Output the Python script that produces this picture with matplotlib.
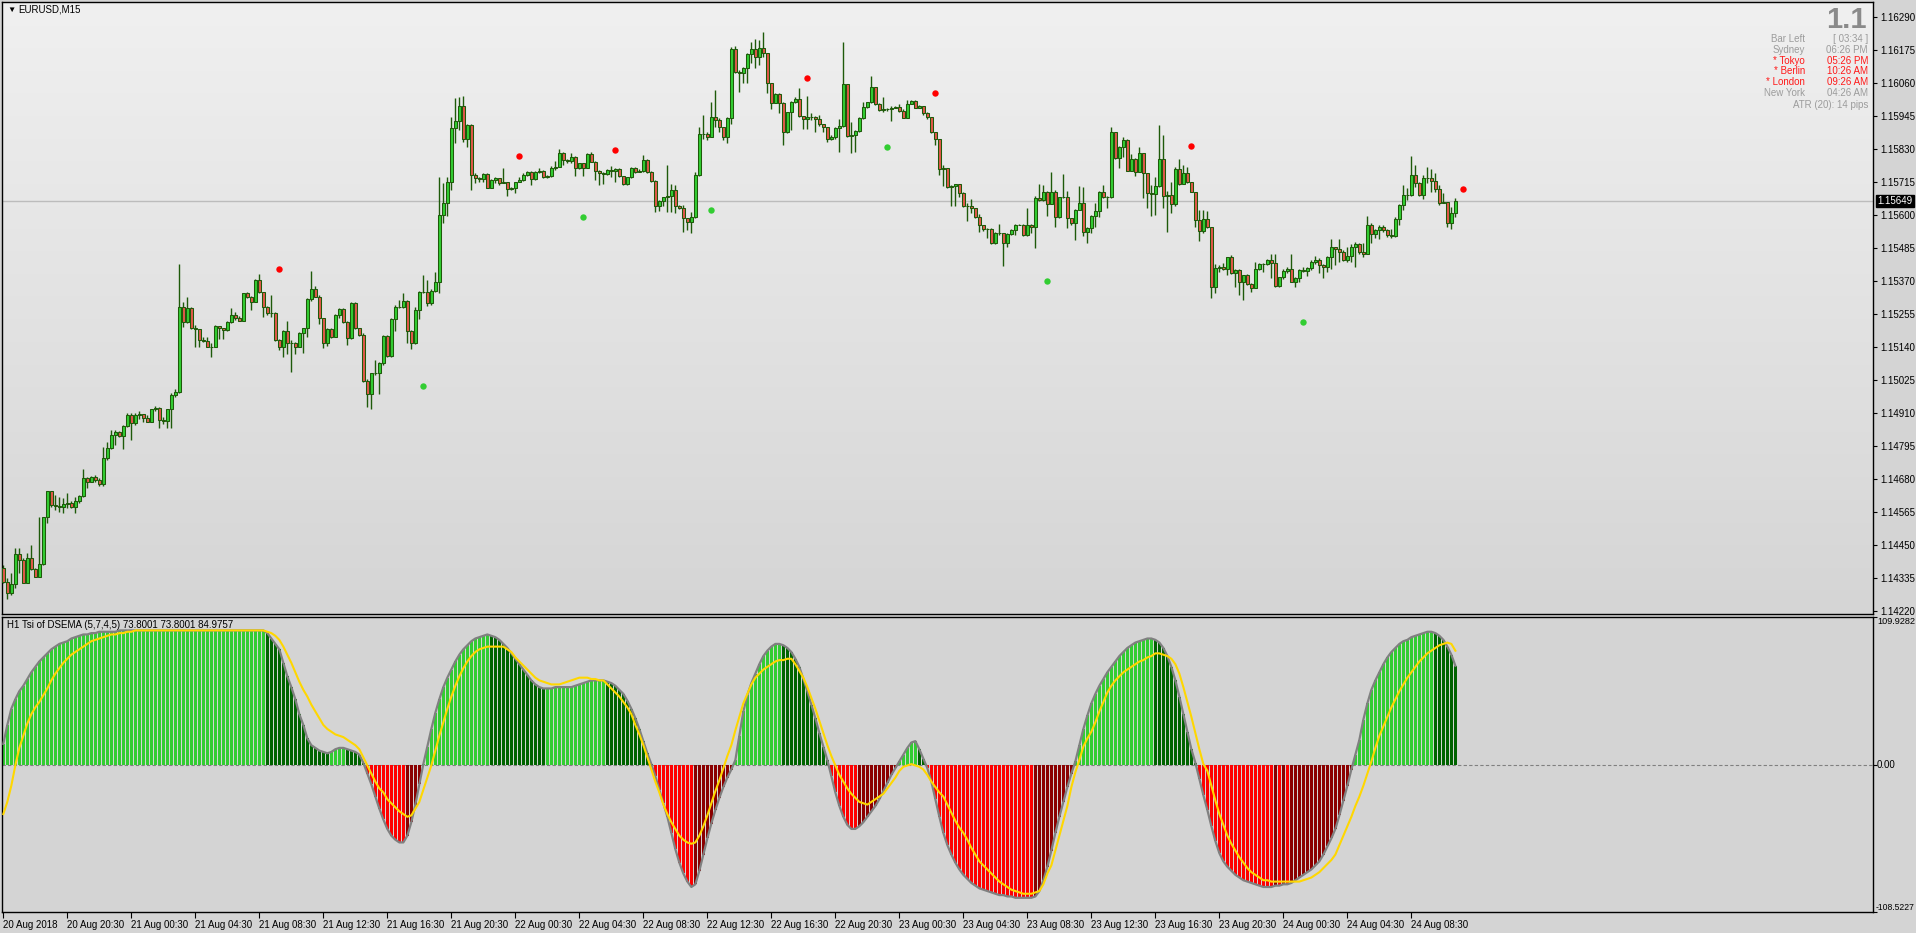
"""MT4 style EURUSD M15 chart with the H1 TSI of DSEMA sub-window."""
import matplotlib
matplotlib.use("Agg")
import matplotlib.pyplot as plt
import matplotlib.transforms as mtransforms
import numpy as np
from matplotlib.colors import LinearSegmentedColormap

FIG_W, FIG_H = 1916, 933

# prices in points (1 point = 0.00001)
FIRST_OPEN = 114368
CLOSES = [
    114322, 114281, 114313, 114418, 114397, 114318, 114403, 114365, 114339, 114382,
    114546, 114637, 114589, 114587, 114583, 114591, 114597, 114583, 114604, 114620,
    114682, 114670, 114685, 114676, 114661, 114752, 114787, 114832, 114842, 114831,
    114865, 114903, 114876, 114903, 114905, 114891, 114880, 114923, 114926, 114885,
    114883, 114923, 114971, 114984, 115278, 115226, 115275, 115205, 115203, 115164,
    115162, 115141, 115141, 115213, 115208, 115199, 115226, 115250, 115242, 115232,
    115327, 115313, 115298, 115373, 115333, 115280, 115257, 115257, 115164, 115141,
    115196, 115153, 115153, 115141, 115190, 115205, 115306, 115341, 115315, 115240,
    115155, 115203, 115176, 115251, 115271, 115226, 115170, 115294, 115205, 115181,
    115023, 114976, 115048, 115048, 115083, 115178, 115108, 115236, 115280, 115280,
    115301, 115197, 115153, 115269, 115333, 115333, 115292, 115336, 115368, 115600,
    115643, 115714, 115902, 115928, 115980, 115867, 115914, 115740, 115728, 115725,
    115743, 115696, 115722, 115729, 115713, 115716, 115690, 115696, 115716, 115722,
    115740, 115749, 115725, 115749, 115755, 115734, 115736, 115763, 115768, 115815,
    115792, 115789, 115804, 115763, 115780, 115765, 115812, 115786, 115755, 115748,
    115742, 115757, 115755, 115761, 115736, 115708, 115732, 115763, 115751, 115755,
    115792, 115749, 115720, 115633, 115649, 115662, 115666, 115687, 115633, 115623,
    115589, 115577, 115594, 115740, 115881, 115881, 115873, 115941, 115931, 115906,
    115871, 115937, 116178, 116100, 116094, 116114, 116161, 116178, 116150, 116181,
    116164, 116059, 115992, 116022, 115992, 115891, 115958, 115993, 116005, 115946,
    115934, 115941, 115941, 115934, 115916, 115906, 115867, 115871, 115902, 115912,
    116056, 115876, 115879, 115893, 115937, 115976, 115993, 116045, 115986, 115966,
    115969, 115969, 115974, 115978, 115964, 115940, 115986, 115998, 115974, 115980,
    115955, 115941, 115891, 115864, 115759, 115763, 115699, 115702, 115707, 115678,
    115633, 115632, 115623, 115592, 115565, 115550, 115553, 115504, 115536, 115536,
    115501, 115533, 115548, 115567, 115567, 115530, 115567, 115557, 115661, 115651,
    115682, 115639, 115682, 115594, 115662, 115664, 115589, 115571, 115618, 115641,
    115542, 115554, 115598, 115615, 115682, 115664, 115664, 115888, 115800, 115838,
    115862, 115755, 115794, 115751, 115815, 115745, 115676, 115673, 115701, 115794,
    115668, 115670, 115637, 115761, 115708, 115745, 115714, 115682, 115583, 115546,
    115585, 115557, 115350, 115414, 115420, 115411, 115453, 115397, 115409, 115368,
    115391, 115360, 115347, 115411, 115429, 115429, 115443, 115434, 115354, 115383,
    115406, 115411, 115368, 115379, 115408, 115405, 115414, 115437, 115445, 115426,
    115420, 115455, 115487, 115480, 115472, 115443, 115457, 115490, 115499, 115470,
    115466, 115567, 115534, 115548, 115559, 115548, 115530, 115527, 115588, 115635,
    115670, 115670, 115739, 115713, 115670, 115728, 115731, 115720, 115691, 115643,
    115644, 115571, 115609, 115649,
]
HIGHS = [
    114380, 114333, 114351, 114438, 114438, 114403, 114421, 114450, 114368, 114548,
    114548, 114639, 114636, 114624, 114618, 114612, 114630, 114604, 114618, 114624,
    114713, 114688, 114691, 114693, 114682, 114792, 114810, 114851, 114851, 114848,
    114868, 114909, 114909, 114909, 114918, 114903, 114903, 114925, 114934, 114932,
    114897, 114925, 114978, 114992, 115429, 115298, 115315, 115278, 115217, 115204,
    115176, 115174, 115153, 115217, 115213, 115203, 115229, 115275, 115263, 115248,
    115330, 115333, 115318, 115377, 115394, 115333, 115284, 115321, 115263, 115167,
    115199, 115232, 115164, 115159, 115193, 115208, 115310, 115406, 115352, 115321,
    115242, 115205, 115207, 115255, 115275, 115275, 115232, 115298, 115296, 115208,
    115190, 115027, 115050, 115095, 115089, 115182, 115182, 115240, 115286, 115304,
    115329, 115304, 115199, 115280, 115336, 115391, 115373, 115341, 115402, 115734,
    115713, 115734, 115941, 116007, 116010, 116015, 115917, 115917, 115746, 115734,
    115746, 115746, 115725, 115734, 115729, 115763, 115708, 115699, 115716, 115734,
    115748, 115752, 115752, 115752, 115763, 115757, 115740, 115772, 115790, 115829,
    115821, 115797, 115815, 115806, 115783, 115782, 115815, 115821, 115790, 115757,
    115751, 115760, 115772, 115765, 115763, 115737, 115734, 115766, 115766, 115760,
    115809, 115794, 115752, 115722, 115651, 115662, 115775, 115708, 115705, 115635,
    115635, 115590, 115612, 115751, 115908, 115949, 115890, 115995, 116036, 115937,
    115908, 115943, 116187, 116189, 116105, 116118, 116165, 116204, 116213, 116210,
    116237, 116166, 116061, 116027, 116025, 115995, 115960, 115998, 116013, 116042,
    115946, 116015, 115955, 115946, 115949, 115917, 115908, 115880, 115906, 115934,
    116202, 116056, 115923, 115897, 115941, 115995, 115995, 116085, 116048, 115990,
    116010, 115975, 115980, 115982, 115986, 115969, 116001, 116001, 116001, 115985,
    115978, 115958, 115943, 115891, 115866, 115775, 115765, 115705, 115710, 115707,
    115682, 115641, 115655, 115623, 115603, 115565, 115556, 115555, 115540, 115568,
    115538, 115536, 115551, 115570, 115570, 115570, 115624, 115570, 115665, 115708,
    115705, 115685, 115749, 115686, 115664, 115743, 115684, 115590, 115622, 115703,
    115699, 115557, 115601, 115641, 115685, 115705, 115668, 115906, 115890, 115842,
    115873, 115866, 115813, 115798, 115836, 115818, 115746, 115705, 115734, 115914,
    115879, 115683, 115714, 115769, 115795, 115775, 115769, 115715, 115682, 115617,
    115617, 115615, 115557, 115428, 115425, 115432, 115453, 115461, 115412, 115412,
    115392, 115394, 115362, 115435, 115432, 115432, 115448, 115464, 115464, 115385,
    115411, 115420, 115464, 115385, 115413, 115418, 115420, 115443, 115458, 115449,
    115431, 115458, 115516, 115490, 115515, 115478, 115490, 115498, 115507, 115504,
    115501, 115596, 115571, 115553, 115565, 115565, 115553, 115550, 115592, 115638,
    115705, 115696, 115806, 115774, 115716, 115739, 115768, 115759, 115745, 115705,
    115676, 115646, 115629, 115658,
]
LOWS = [
    114318, 114260, 114275, 114301, 114351, 114316, 114316, 114363, 114337, 114337,
    114380, 114525, 114583, 114572, 114566, 114562, 114577, 114577, 114562, 114595,
    114616, 114650, 114668, 114670, 114655, 114655, 114746, 114783, 114798, 114827,
    114783, 114860, 114816, 114868, 114889, 114880, 114877, 114881, 114916, 114856,
    114871, 114856, 114856, 114967, 114981, 115211, 115222, 115203, 115141, 115139,
    115158, 115139, 115104, 115145, 115168, 115168, 115197, 115222, 115234, 115229,
    115231, 115310, 115269, 115296, 115330, 115246, 115251, 115246, 115162, 115129,
    115104, 115115, 115054, 115115, 115139, 115118, 115174, 115301, 115313, 115220,
    115135, 115145, 115172, 115174, 115242, 115222, 115147, 115167, 115203, 115178,
    115019, 114930, 114923, 115042, 114975, 115078, 115106, 115106, 115197, 115275,
    115275, 115155, 115132, 115150, 115236, 115327, 115283, 115286, 115333, 115330,
    115571, 115597, 115687, 115852, 115897, 115856, 115836, 115687, 115711, 115716,
    115714, 115693, 115693, 115711, 115705, 115711, 115668, 115687, 115678, 115714,
    115720, 115737, 115705, 115722, 115746, 115730, 115728, 115734, 115757, 115766,
    115775, 115780, 115780, 115737, 115760, 115737, 115763, 115784, 115722, 115705,
    115707, 115740, 115734, 115714, 115734, 115705, 115705, 115728, 115746, 115749,
    115749, 115746, 115716, 115612, 115615, 115632, 115612, 115612, 115608, 115620,
    115542, 115548, 115536, 115590, 115737, 115867, 115862, 115871, 115908, 115891,
    115862, 115850, 115917, 116095, 116030, 116059, 116059, 116131, 116112, 116123,
    116152, 116024, 115969, 115990, 115957, 115844, 115885, 115897, 115990, 115943,
    115899, 115899, 115931, 115891, 115912, 115891, 115856, 115862, 115867, 115821,
    115908, 115873, 115815, 115821, 115890, 115934, 115974, 115990, 115984, 115962,
    115960, 115962, 115928, 115972, 115960, 115937, 115940, 115990, 115972, 115972,
    115949, 115934, 115885, 115844, 115740, 115700, 115693, 115633, 115633, 115662,
    115629, 115580, 115606, 115590, 115542, 115545, 115519, 115499, 115500, 115530,
    115424, 115490, 115530, 115531, 115564, 115528, 115527, 115536, 115484, 115648,
    115648, 115598, 115637, 115560, 115590, 115658, 115554, 115565, 115513, 115616,
    115527, 115501, 115536, 115560, 115594, 115660, 115623, 115660, 115796, 115763,
    115803, 115755, 115752, 115737, 115750, 115661, 115623, 115597, 115600, 115698,
    115623, 115542, 115608, 115630, 115705, 115707, 115712, 115680, 115560, 115511,
    115536, 115555, 115310, 115327, 115403, 115408, 115391, 115395, 115350, 115321,
    115304, 115356, 115333, 115345, 115410, 115403, 115425, 115382, 115350, 115350,
    115376, 115399, 115365, 115348, 115365, 115402, 115387, 115408, 115431, 115399,
    115381, 115402, 115411, 115426, 115437, 115441, 115437, 115437, 115418, 115464,
    115455, 115464, 115501, 115519, 115515, 115542, 115524, 115519, 115524, 115565,
    115617, 115652, 115666, 115699, 115667, 115655, 115713, 115681, 115681, 115635,
    115641, 115559, 115553, 115592,
]
CURRENT_PRICE = 1.15649

# H1 Tsi of DSEMA, histogram/line and signal
TSI = [
    16, 30, 42, 49, 55, 59, 64, 69, 73, 77,
    80, 83, 86, 88, 90, 91, 92, 94, 95, 96,
    97, 97, 98, 98, 99, 99, 99, 99, 99, 100,
    100, 100, 100, 100, 100, 100, 100, 100, 100, 100,
    100, 100, 100, 100, 100, 100, 100, 100, 100, 100,
    100, 100, 100, 100, 100, 100, 100, 100, 100, 100,
    100, 100, 100, 100, 100, 100, 98, 94, 90, 86,
    76, 66, 58, 49, 38, 30, 20, 15, 13, 11,
    10, 9, 10, 12, 13, 13, 12, 11, 10, 8,
    2, -6, -14, -23, -32, -40, -47, -52, -55, -57,
    -57, -52, -42, -29, -14, 1, 14, 27, 39, 49,
    58, 65, 71, 77, 82, 86, 89, 92, 94, 95,
    96, 97, 96, 95, 93, 90, 87, 83, 79, 75,
    71, 67, 63, 60, 58, 57, 57, 57, 58, 58,
    58, 58, 58, 59, 60, 61, 62, 63, 63, 63,
    63, 62, 61, 59, 56, 53, 48, 42, 35, 27,
    18, 9, 1, -8, -18, -28, -38, -50, -62, -72,
    -80, -86, -90, -88, -78, -66, -54, -43, -33, -24,
    -16, -9, -3, 4, 22, 40, 52, 61, 68, 75,
    81, 85, 88, 90, 90, 89, 87, 84, 79, 73,
    64, 55, 45, 35, 24, 14, 4, -8, -20, -30,
    -38, -44, -47, -47, -45, -42, -38, -34, -30, -25,
    -19, -13, -7, -2, 3, 8, 13, 17, 18, 12,
    5, -2, -12, -25, -38, -50, -59, -66, -72, -77,
    -81, -84, -87, -89, -91, -92, -93, -94, -95, -96,
    -96, -97, -97, -98, -98, -98, -98, -98, -97, -93,
    -85, -75, -63, -50, -38, -27, -16, -6, 3, 15,
    27, 37, 46, 53, 59, 64, 69, 73, 77, 81,
    84, 87, 89, 91, 92, 93, 94, 94, 93, 91,
    87, 81, 73, 63, 51, 38, 25, 12, 2, -10,
    -22, -33, -45, -56, -65, -71, -75, -78, -81, -83,
    -85, -86, -87, -88, -89, -90, -90, -90, -89, -89,
    -88, -88, -87, -85, -83, -81, -79, -77, -74, -71,
    -66, -60, -54, -47, -37, -26, -15, -3, 8, 19,
    34, 46, 56, 63, 69, 75, 80, 84, 87, 90,
    92, 93, 95, 96, 97, 98, 99, 99, 98, 96,
    93, 88, 82, 73.8001,
]
SIGNAL = [
    -36, -27, -15, 0, 13, 22, 31, 38, 43, 47,
    52, 57, 63, 68, 72, 76, 79, 82, 84, 86,
    88, 90, 92, 93, 94, 95, 96, 97, 97, 98,
    98, 99, 99, 100, 100, 100, 100, 100, 100, 100,
    100, 100, 100, 100, 100, 100, 100, 100, 100, 100,
    100, 100, 100, 100, 100, 100, 100, 100, 100, 100,
    100, 100, 100, 100, 100, 100, 99, 98, 96, 93,
    88, 82, 76, 69, 62, 56, 51, 45, 40, 35,
    30, 27, 25, 23, 22, 21, 19, 17, 15, 12,
    6, 0, -6, -12, -17, -20, -25, -28, -31, -34,
    -36, -38, -37, -32, -27, -18, -9, 0, 11, 22,
    32, 42, 51, 59, 66, 72, 77, 81, 84, 86,
    87, 88, 88, 88, 88, 88, 86, 84, 80, 77,
    74, 71, 68, 65, 63, 62, 61, 60, 60, 60,
    61, 62, 63, 64, 65, 65, 65, 64, 64, 63,
    63, 60, 57, 54, 51, 47, 43, 38, 30, 23,
    15, 6, -3, -12, -20, -29, -36, -42, -47, -52,
    -55, -57, -58, -57, -52, -45, -37, -28, -19, -11,
    -2, 7, 15, 26, 36, 46, 53, 60, 65, 68,
    71, 73, 75, 77, 78, 78, 79, 79, 75, 70,
    65, 58, 50, 42, 33, 24, 15, 7, 0, -7,
    -12, -17, -21, -24, -27, -28, -29, -27, -25, -23,
    -21, -17, -13, -9, -4, -1, 0, 1, 0, -1,
    -3, -7, -12, -16, -20, -23, -29, -35, -41, -46,
    -50, -55, -61, -66, -71, -74, -77, -80, -83, -86,
    -88, -90, -92, -93, -94, -95, -95, -95, -94, -93,
    -88, -80, -74, -63, -52, -41, -30, -16, -5, 4,
    14, 20, 25, 32, 40, 47, 54, 59, 63, 66,
    69, 71, 73, 75, 77, 78, 80, 81, 83, 83,
    82, 81, 79, 75, 68, 58, 47, 36, 24, 12,
    1, -4, -15, -26, -36, -44, -52, -58, -63, -68,
    -72, -76, -79, -81, -83, -85, -85, -86, -86, -86,
    -86, -86, -86, -86, -86, -85, -84, -83, -81, -79,
    -76, -73, -70, -66, -59, -52, -45, -38, -30, -23,
    -15, -6, 3, 13, 22, 29, 36, 43, 49, 55,
    60, 65, 69, 73, 77, 80, 83, 85, 87, 89,
    90, 91, 90, 84.9757,
]
TSI_MAX, TSI_MIN = 109.9282, -108.5227

# swing dots (bar index, price in points)
UP_DOT_BARS = [69, 129, 153, 201, 233, 297, 365]
UP_DOT_PRICES = [115412, 115806, 115827, 116078, 116027, 115841, 115691]
DN_DOT_BARS = [105, 145, 177, 221, 261, 325]
DN_DOT_PRICES = [115004, 115594, 115618, 115838, 115371, 115228]

TIME_TICK_BARS = [0, 16, 32, 48, 64, 80, 96, 112, 128, 144, 160, 176,
                  192, 208, 224, 240, 256, 272, 288, 304, 320, 336, 352]
TIME_LABELS = [
    "20 Aug 2018", "20 Aug 20:30", "21 Aug 00:30", "21 Aug 04:30", "21 Aug 08:30",
    "21 Aug 12:30", "21 Aug 16:30", "21 Aug 20:30", "22 Aug 00:30", "22 Aug 04:30",
    "22 Aug 08:30", "22 Aug 12:30", "22 Aug 16:30", "22 Aug 20:30", "23 Aug 00:30",
    "23 Aug 04:30", "23 Aug 08:30", "23 Aug 12:30", "23 Aug 16:30", "23 Aug 20:30",
    "24 Aug 00:30", "24 Aug 04:30", "24 Aug 08:30",
]

SESSIONS = ["Bar Left", "Sydney", "* Tokyo", "* Berlin", "* London", "New York"]
SESSION_TIMES = ["[ 03:34 ]", "06:26 PM", "05:26 PM", "10:26 AM", "09:26 AM", "04:26 AM"]
SESSION_OPEN = [False, False, True, True, True, False]

OUTLINE = "#1e5a0a"
BULL = "#32cd32"
BEAR = "#e0584a"
PANEL = "#d4d4d4"

plt.rcParams["font.family"] = ["Liberation Sans", "DejaVu Sans"]


def fx(px):
    return px / FIG_W


def fy(py):
    return 1 - py / FIG_H


fig = plt.figure(figsize=(FIG_W / 100, FIG_H / 100), dpi=100, facecolor=PANEL)
ax = fig.add_axes([fx(2), fy(614), (1873 - 2) / FIG_W, (614 - 2) / FIG_H])
ax2 = fig.add_axes([fx(2), fy(912), (1873 - 2) / FIG_W, (912 - 617) / FIG_H])

XLIM = (-0.33, 467.4)
YLIM = (1.14209, 1.16343)

# ---- main price window ----
ax.set_xlim(*XLIM)
ax.set_ylim(*YLIM)
grad = LinearSegmentedColormap.from_list("bg", ["#f0f0f0", "#d5d5d5"])
ax.imshow(np.linspace(0, 1, 256)[:, None], cmap=grad, aspect="auto",
          extent=(XLIM[0], XLIM[1], YLIM[0], YLIM[1]), origin="upper", zorder=0)

n = len(CLOSES)
x = np.arange(n)
c = np.array(CLOSES, dtype=float)
o = np.r_[FIRST_OPEN, c[:-1]]
h = np.maximum(np.maximum(np.array(HIGHS, dtype=float), o), c)
l = np.minimum(np.minimum(np.array(LOWS, dtype=float), o), c)
c, o, h, l = c / 1e5, o / 1e5, h / 1e5, l / 1e5
bull = c >= o

ax.axhline(CURRENT_PRICE, color="#bcbcbc", lw=1.0, zorder=1)
ax.vlines(x, l, h, color=OUTLINE, lw=1.0, zorder=2)
ax.bar(x, np.abs(c - o), bottom=np.minimum(o, c), width=0.6,
       color=np.where(bull, BULL, BEAR), edgecolor=OUTLINE, linewidth=0.75, zorder=3)

ax.plot(UP_DOT_BARS, np.array(UP_DOT_PRICES) / 1e5, "o", ms=4.6, color="#ff0000",
        mec="none", zorder=4)
ax.plot(DN_DOT_BARS, np.array(DN_DOT_PRICES) / 1e5, "o", ms=4.6, color="#32cd32",
        mec="none", zorder=4)

price_ticks = 1.14220 + 0.00115 * np.arange(19)
ax.yaxis.tick_right()
ax.set_yticks(price_ticks)
ax.set_yticklabels([f"{p:.5f}" for p in price_ticks])
ax.tick_params(axis="y", length=3, width=0.8, pad=2, labelsize=7, colors="black")
ax.set_xticks([])
for sp in ax.spines.values():
    sp.set_color("black")
    sp.set_linewidth(1.0)

# current price tag on the axis
tag = mtransforms.blended_transform_factory(fig.transFigure, ax.transData)
ax.text(fx(1877), CURRENT_PRICE, "1.15649", transform=tag, ha="left", va="center",
        fontsize=7, color="white", clip_on=False, zorder=6,
        bbox=dict(boxstyle="square,pad=0.15", facecolor="black", edgecolor="black"))

# header and info block
fig.text(fx(7), fy(10), "\u25bc", fontsize=6, ha="left", va="center", color="black")
fig.text(fx(18), fy(10), "EURUSD,M15", fontsize=7, ha="left", va="center", color="black")
fig.text(fx(1867), fy(20), "1.1", fontsize=21, fontweight="bold", ha="right",
         va="center", color="#8a8a8a")
for k, (name, t, hot) in enumerate(zip(SESSIONS, SESSION_TIMES, SESSION_OPEN)):
    yy = fy(39 + k * 10.8)
    col = "#ff1a1a" if hot else "#9c9c9c"
    fig.text(fx(1805), yy, name, fontsize=7, ha="right", va="center", color=col)
    fig.text(fx(1868), yy, t, fontsize=7, ha="right", va="center", color=col)
fig.text(fx(1868), fy(105), "ATR (20): 14 pips", fontsize=7, ha="right",
         va="center", color="#9c9c9c")

# ---- TSI sub-window ----
ax2.set_facecolor(PANEL)
ax2.set_xlim(*XLIM)
ax2.set_ylim(TSI_MIN, TSI_MAX)
tsi = np.array(TSI, dtype=float)
sig = np.array(SIGNAL, dtype=float)
prev = np.r_[tsi[0], tsi[:-1]]
hist_cols = np.where(tsi >= 0,
                     np.where(tsi >= prev, "#32cd32", "#006400"),
                     np.where(tsi <= prev, "#ff0000", "#8b0000"))
ax2.axhline(0, color="#808080", lw=0.8, ls=(0, (3, 2)), zorder=1)
ax2.bar(x, tsi, width=0.72, color=hist_cols, zorder=2)
ax2.plot(x, tsi, color="#808080", lw=1.6, zorder=3)
ax2.plot(x, sig, color="#ffd700", lw=1.5, zorder=4)

ax2.text(fx(7), fy(625), "H1 Tsi of DSEMA (5,7,4,5) 73.8001 73.8001 84.9757",
         transform=fig.transFigure, fontsize=7, ha="left", va="center", color="black")

ax2.yaxis.tick_right()
ax2.set_yticks([TSI_MAX, 0, TSI_MIN])
ax2.set_yticklabels([])
ax2.tick_params(axis="y", length=3, width=0.8)
ytag = mtransforms.blended_transform_factory(fig.transFigure, ax2.transData)
ax2.text(fx(1877), TSI_MAX, "109.9282", transform=ytag, ha="left", va="top",
         fontsize=6.6, clip_on=False)
ax2.text(fx(1877), 0, "0.00", transform=ytag, ha="left", va="center",
         fontsize=7, clip_on=False)
ax2.text(fx(1876), TSI_MIN, "-108.5227", transform=ytag, ha="left", va="bottom",
         fontsize=6.2, clip_on=False)

ax2.set_xticks(TIME_TICK_BARS)
ax2.set_xticklabels(TIME_LABELS)
ax2.tick_params(axis="x", length=4, width=0.8, pad=1.5, labelsize=7, colors="black")
for lab in ax2.get_xticklabels():
    lab.set_horizontalalignment("left")
for sp in ax2.spines.values():
    sp.set_color("black")
    sp.set_linewidth(1.0)

fig.savefig("out.png", dpi=100, facecolor=PANEL)
